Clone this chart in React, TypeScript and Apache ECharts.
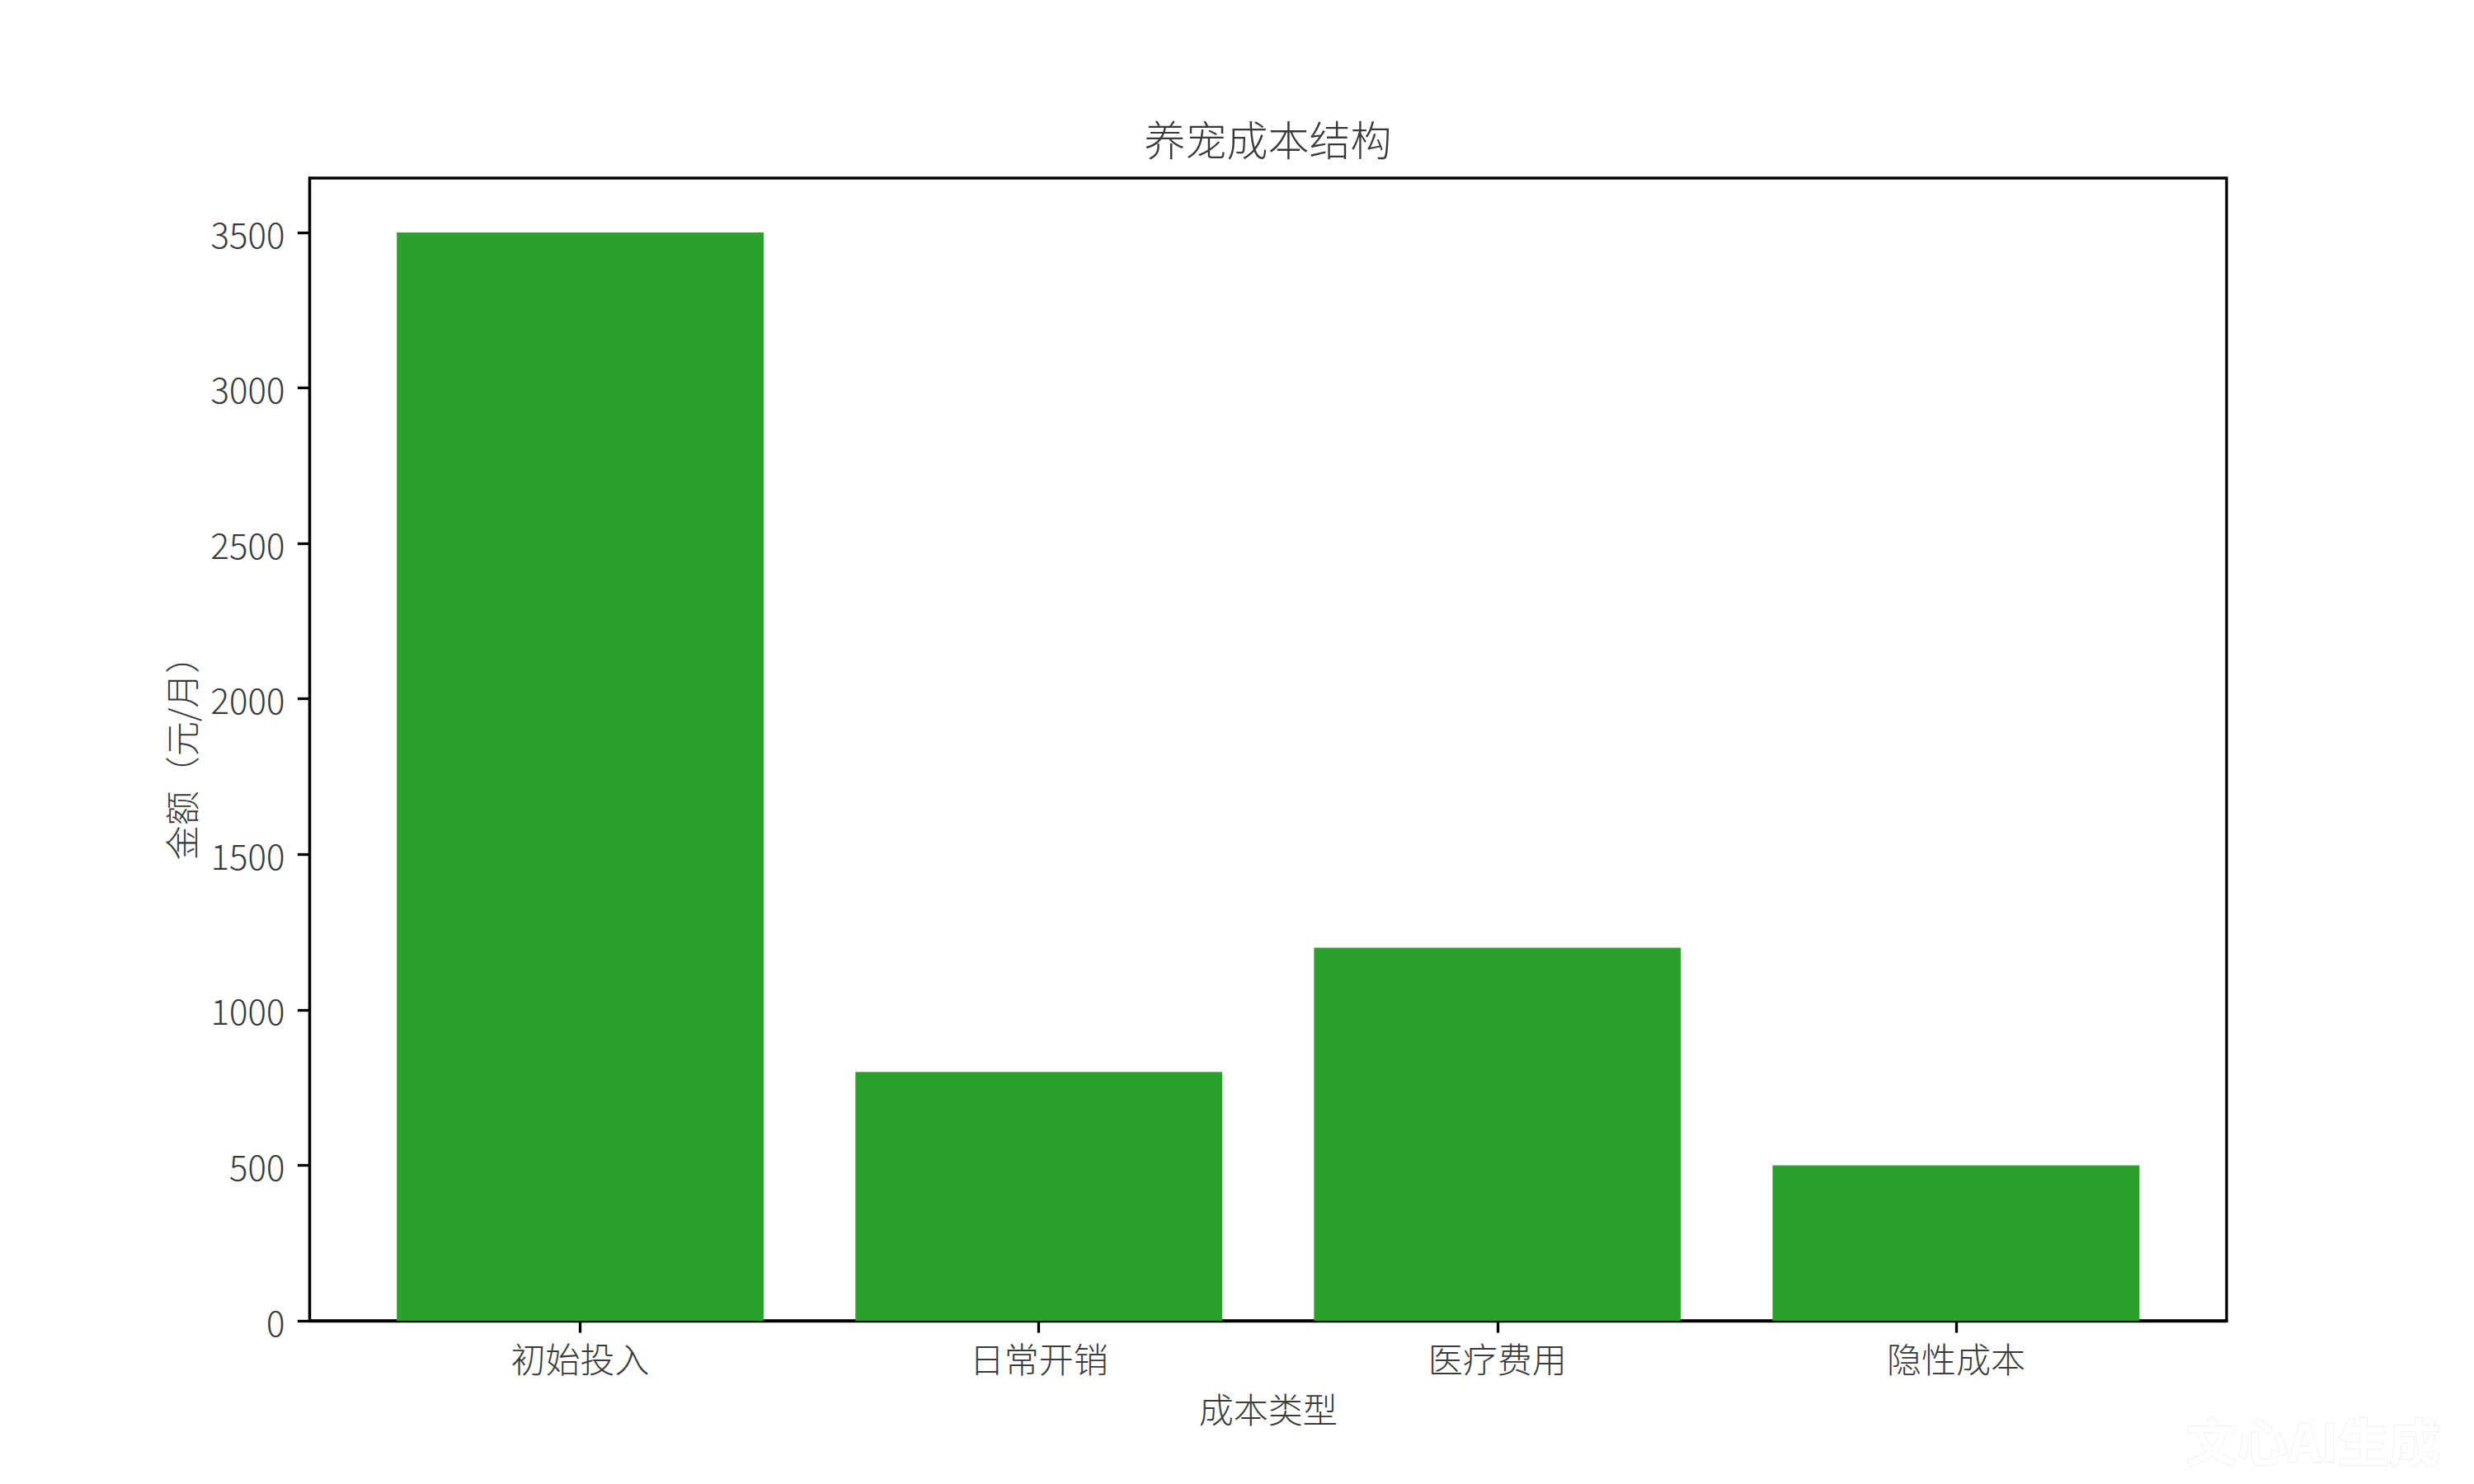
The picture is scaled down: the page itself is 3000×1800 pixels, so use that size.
import { useEffect, useRef } from "react";
import * as echarts from "echarts";

const categories = ["初始投入", "日常开销", "医疗费用", "隐性成本"];
const amounts = [3500, 800, 1200, 500];
const yTicks = [0, 500, 1000, 1500, 2000, 2500, 3000, 3500];

const FONT = '"Noto Sans CJK SC", "Noto Sans", sans-serif';
const TEXT = "#3a3a3a";

export default function App() {
  const ref = useRef<HTMLDivElement>(null);

  useEffect(() => {
    document.body.style.margin = "0";
    if (!ref.current) return;
    const chart = echarts.init(ref.current, null, { renderer: "svg" });

    // matplotlib-style limits: 5% margins around the data
    const yMax = Math.max(...amounts) * 1.05;
    const xMin = -0.4 - 0.19;
    const xMax = categories.length - 1 + 0.4 + 0.19;
    const plotW = 2700 - 375.5;
    const barW = (plotW / (xMax - xMin)) * 0.8;

    chart.setOption({
      animation: false,
      backgroundColor: "#ffffff",
      textStyle: { fontFamily: FONT },
      title: {
        text: "养宠成本结构",
        left: 1537.5,
        top: 142,
        textAlign: "center",
        padding: 0,
        textStyle: { fontFamily: FONT, fontSize: 50, fontWeight: 300, color: TEXT },
      },
      grid: {
        left: 375.5,
        right: 300,
        top: 216,
        bottom: 198,
        show: true,
        borderColor: "#000",
        borderWidth: 3.3,
        backgroundColor: "transparent",
        outerBoundsMode: "none",
      },
      xAxis: {
        type: "value",
        min: xMin,
        max: xMax,
        name: "成本类型",
        nameLocation: "middle",
        nameGap: 84,
        nameTextStyle: { fontFamily: FONT, fontSize: 42, fontWeight: 300, color: TEXT },
        axisLine: { show: true, onZero: false, lineStyle: { color: "#000", width: 3.3 } },
        axisTick: {
          show: true,
          length: 14.6,
          customValues: categories.map((_, i) => i),
          lineStyle: { color: "#000", width: 3.3 },
        },
        axisLabel: {
          show: true,
          margin: 23,
          customValues: categories.map((_, i) => i),
          formatter: (v: number) => categories[Math.round(v)] ?? "",
          fontFamily: FONT,
          fontSize: 42,
          fontWeight: 300,
          color: TEXT,
        },
        splitLine: { show: false },
      },
      yAxis: {
        type: "value",
        min: 0,
        max: yMax,
        name: "金额（元/月）",
        nameLocation: "middle",
        nameGap: 136,
        nameTextStyle: { fontFamily: FONT, fontSize: 42, fontWeight: 300, color: TEXT },
        axisLine: { show: true, onZero: false, lineStyle: { color: "#000", width: 3.3 } },
        axisTick: {
          show: true,
          length: 14.6,
          customValues: yTicks,
          lineStyle: { color: "#000", width: 3.3 },
        },
        axisLabel: {
          show: true,
          margin: 30,
          customValues: yTicks,
          formatter: (v: number) => String(v),
          fontFamily: FONT,
          fontSize: 42,
          fontWeight: 300,
          color: TEXT,
        },
        splitLine: { show: false },
      },
      graphic: [
        {
          type: "text",
          right: 40,
          bottom: 22,
          silent: true,
          style: {
            text: "文心AI生成",
            font: `bold 62px ${FONT}`,
            fill: "#ffffff",
            stroke: "rgba(0,0,0,0.06)",
            lineWidth: 2,
            shadowBlur: 12,
            shadowColor: "rgba(0,0,0,0.25)",
          },
        },
      ],
      series: [
        {
          type: "bar",
          data: amounts.map((v, i) => [i, v]),
          barWidth: barW,
          itemStyle: { color: "#2ca02c" },
          z: 1,
        },
      ],
    });

    return () => chart.dispose();
  }, []);

  return <div ref={ref} style={{ width: 3000, height: 1800 }} />;
}
